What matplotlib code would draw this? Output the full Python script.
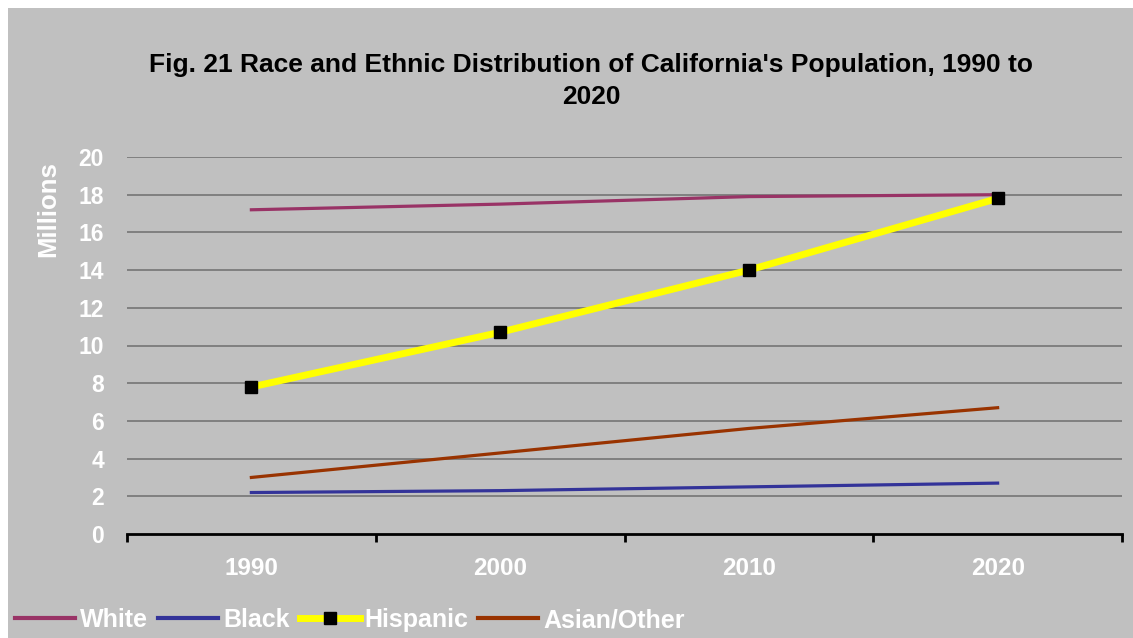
import matplotlib.pyplot as plt
from matplotlib.patches import Rectangle

years = ["1990", "2000", "2010", "2020"]
white = [17.2, 17.5, 17.9, 18.0]
black = [2.2, 2.3, 2.5, 2.7]
hispanic = [7.8, 10.7, 14.0, 17.8]
asian_other = [3.0, 4.3, 5.6, 6.7]
y_ticks = [0, 2, 4, 6, 8, 10, 12, 14, 16, 18, 20]

plt.rcParams["font.family"] = ["Liberation Sans", "DejaVu Sans"]
plt.rcParams["font.weight"] = "bold"

BG = "#c0c0c0"

fig = plt.figure(figsize=(11.33, 6.38), dpi=100)
fig.patch.set_facecolor("white")
fig.patches.append(Rectangle((8 / 1133, 0), 1, 1 - 8 / 638, transform=fig.transFigure,
                             facecolor=BG, edgecolor="none", zorder=-10))

ax = fig.add_axes([127 / 1133, 1 - 534 / 638, 995 / 1133, 377 / 638])
ax.patch.set_alpha(0)

x = list(range(len(years)))
ax.plot(x, white, color="#993366", lw=2.3, label="White", zorder=3)
ax.plot(x, black, color="#333399", lw=2.3, label="Black", zorder=3)
ax.plot(x, hispanic, color="#ffff00", lw=5, marker="s", markersize=8.5,
        markerfacecolor="black", markeredgecolor="black", label="Hispanic", zorder=4)
ax.plot(x, asian_other, color="#993300", lw=2.3, label="Asian/Other", zorder=3)

ax.set_xlim(-0.5, len(years) - 0.5)
ax.set_ylim(0, 20)

# gridlines (no line at 0, the axis sits there)
for v in y_ticks[1:]:
    ax.axhline(v, color="#808080", lw=1.4, zorder=1)

for s in ["top", "right", "left"]:
    ax.spines[s].set_visible(False)
ax.spines["bottom"].set_color("black")
ax.spines["bottom"].set_linewidth(2)

ax.set_yticks(y_ticks)
ax.set_yticklabels([str(v) for v in y_ticks])
ax.tick_params(axis="y", length=0, pad=16.5, labelsize=16.5, labelcolor="white")

ax.set_xticks([i - 0.5 for i in range(len(years) + 1)])
ax.set_xticklabels([""] * (len(years) + 1))
ax.set_xticks(x, minor=True)
ax.set_xticklabels(years, minor=True)
ax.tick_params(axis="x", which="major", length=6, width=2, color="black", direction="out")
ax.tick_params(axis="x", which="minor", length=0, pad=16.5, labelsize=17.5, labelcolor="white")

fig.text(48 / 1133, 1 - 209 / 638, "Millions", rotation=90, color="white",
         fontsize=18.5, fontweight="bold", ha="center", va="center")

fig.text(591 / 1133, 1 - 81 / 638,
         "Fig. 21 Race and Ethnic Distribution of California's Population, 1990 to\n2020",
         ha="center", va="center", fontsize=19, fontweight="bold", color="black",
         linespacing=1.45)

leg = fig.legend(loc="center left", bbox_to_anchor=(15 / 1133, 1 - 620 / 638), ncol=4,
                 frameon=False, borderpad=0, borderaxespad=0, handlelength=2.4,
                 handletextpad=0.2, columnspacing=0.4, fontsize=18)
for t in leg.get_texts():
    t.set_color("white")
for h in leg.legend_handles:
    h.set_linewidth(3 if h.get_label() != "Hispanic" else 5)

fig.savefig("out.png", dpi=100, facecolor=fig.get_facecolor())
